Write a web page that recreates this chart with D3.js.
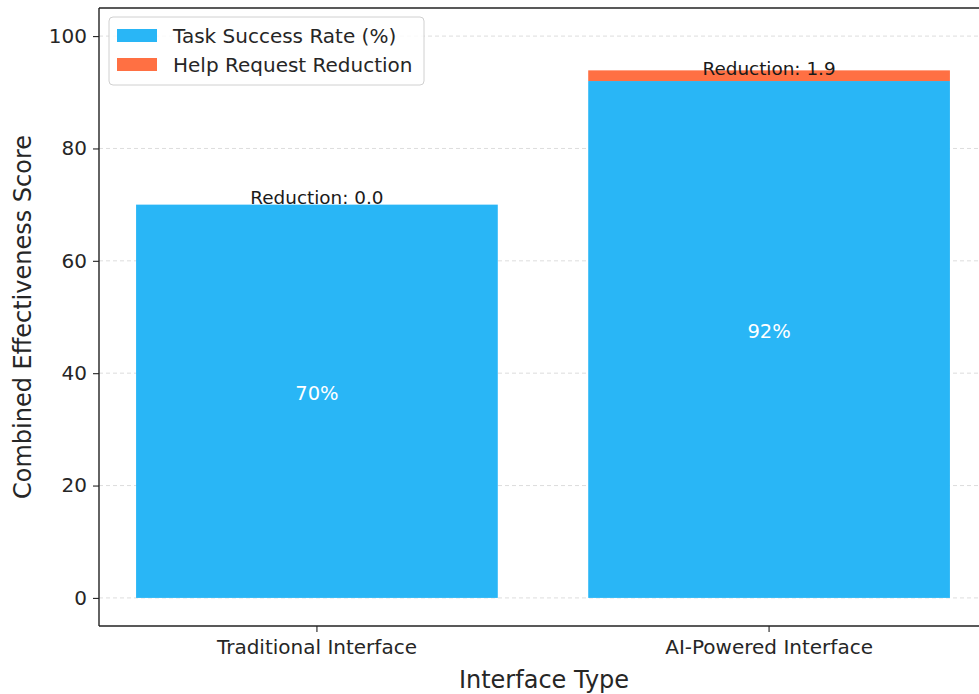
<!DOCTYPE html>
<html>
<head>
<meta charset="utf-8">
<script src="https://cdn.jsdelivr.net/npm/d3@7"></script>
<style>
  html, body { margin: 0; padding: 0; background: #fff; }
  svg { display: block; font-family: "DejaVu Sans", sans-serif; }
</style>
</head>
<body>
<svg id="chart" width="979" height="694"></svg>
<script>
// Interface categories and their stacked scores
const categories = ["Traditional Interface", "AI-Powered Interface"];
const successRate = [70, 92];
const helpReduction = [0.0, 1.9];
const yTicks = [0, 20, 40, 60, 80, 100];
const seriesNames = ["Task Success Rate (%)", "Help Request Reduction"];
const seriesColors = ["#29b6f6", "#ff7043"];

const svg = d3.select("#chart");
const plot = { left: 99, right: 987, top: 8, bottom: 626 };

const x = d3.scaleBand()
  .domain(categories)
  .range([plot.left, plot.right])
  .paddingInner(0.2)
  .paddingOuter(0.082);

const y = d3.scaleLinear()
  .domain([-5, 105])
  .range([plot.bottom, plot.top]);

// Horizontal dashed grid, behind the bars
svg.append("g")
  .selectAll("line")
  .data(yTicks)
  .join("line")
  .attr("x1", plot.left)
  .attr("x2", 989)
  .attr("y1", d => y(d))
  .attr("y2", d => y(d))
  .attr("stroke", "#d9d9d9")
  .attr("stroke-width", 0.9)
  .attr("stroke-dasharray", "4,3");

// Stacked bars
const rows = categories.map((c, i) => ({ cat: c, success: successRate[i], help: helpReduction[i] }));
const stack = d3.stack().keys(["success", "help"])(rows);

svg.append("g")
  .selectAll("g")
  .data(stack)
  .join("g")
  .attr("fill", (d, i) => seriesColors[i])
  .selectAll("rect")
  .data(d => d)
  .join("rect")
  .attr("x", d => x(d.data.cat))
  .attr("width", x.bandwidth())
  .attr("y", d => y(d[1]))
  .attr("height", d => y(d[0]) - y(d[1]));

// Success-rate labels inside the bars
svg.append("g")
  .selectAll("text")
  .data(rows)
  .join("text")
  .attr("x", d => x(d.cat) + x.bandwidth() / 2)
  .attr("y", d => y(d.success / 2) - 1)
  .attr("text-anchor", "middle")
  .attr("fill", "#ffffff")
  .attr("font-size", 19.5)
  .text(d => `${d.success}%`);

// Reduction labels at the middle of each orange segment
svg.append("g")
  .selectAll("text")
  .data(rows)
  .join("text")
  .attr("x", d => x(d.cat) + x.bandwidth() / 2)
  .attr("y", d => y(d.success + d.help / 2) - 1)
  .attr("text-anchor", "middle")
  .attr("fill", "#1a1a1a")
  .attr("font-size", 18.4)
  .text(d => `Reduction: ${d.help.toFixed(1)}`);

// Axes
const xAxis = svg.append("g")
  .attr("transform", `translate(0,${plot.bottom})`)
  .call(d3.axisBottom(x).tickSize(6).tickPadding(8).tickSizeOuter(0));
const yAxis = svg.append("g")
  .attr("transform", `translate(${plot.left},0)`)
  .call(d3.axisLeft(y).tickValues(yTicks).tickSize(6).tickPadding(6).tickSizeOuter(0));

[xAxis, yAxis].forEach(g => {
  g.select(".domain").remove();
  g.selectAll(".tick line").attr("stroke", "#222").attr("stroke-width", 1.1);
  g.selectAll(".tick text")
    .attr("fill", "#262626")
    .attr("font-size", 20)
    .attr("font-family", "DejaVu Sans, sans-serif");
});

// Spines (the right edge falls just outside the view)
const spine = svg.append("g").attr("stroke", "#222").attr("stroke-width", 1.4).attr("fill", "none");
spine.append("line").attr("x1", plot.left).attr("x2", plot.left).attr("y1", plot.top).attr("y2", plot.bottom);
spine.append("line").attr("x1", plot.left).attr("x2", 989).attr("y1", plot.top).attr("y2", plot.top);
spine.append("line").attr("x1", plot.left).attr("x2", 989).attr("y1", plot.bottom).attr("y2", plot.bottom);
spine.append("line").attr("x1", 989).attr("x2", 989).attr("y1", plot.top).attr("y2", plot.bottom);

// Axis titles
svg.append("text")
  .attr("x", (plot.left + 989) / 2)
  .attr("y", 688)
  .attr("text-anchor", "middle")
  .attr("fill", "#262626")
  .attr("font-size", 24)
  .text("Interface Type");

svg.append("text")
  .attr("transform", `translate(31,${(plot.top + plot.bottom) / 2}) rotate(-90)`)
  .attr("text-anchor", "middle")
  .attr("fill", "#262626")
  .attr("font-size", 24)
  .text("Combined Effectiveness Score");

// Legend
const legend = svg.append("g").attr("transform", "translate(109,17)");
legend.append("rect")
  .attr("width", 315).attr("height", 68).attr("rx", 4)
  .attr("fill", "#ffffff").attr("fill-opacity", 0.85)
  .attr("stroke", "#d0d0d0");
const items = legend.selectAll("g.item")
  .data(seriesNames)
  .join("g")
  .attr("class", "item")
  .attr("transform", (d, i) => `translate(8,${12 + i * 29})`);
items.append("rect")
  .attr("width", 40).attr("height", 13)
  .attr("fill", (d, i) => seriesColors[i]);
items.append("text")
  .attr("x", 56).attr("y", 14)
  .attr("fill", "#262626")
  .attr("font-size", 20)
  .text(d => d);
</script>
</body>
</html>
